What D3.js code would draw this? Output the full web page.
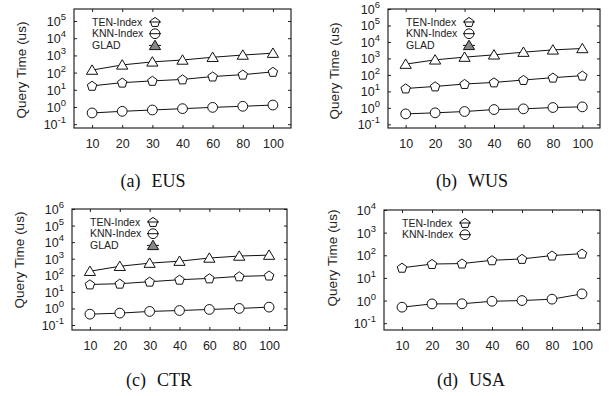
<!DOCTYPE html>
<html>
<head>
<meta charset="utf-8">
<script src="https://cdn.jsdelivr.net/npm/d3@7"></script>
<style>
  body { margin: 0; background: #fff; }
  text { font-family: "Liberation Sans", Arial, sans-serif; fill: #222; }
  .caption { font-family: "Liberation Serif", "Times New Roman", serif; fill: #111; }
</style>
</head>
<body>
<div id="chart-area"></div>
<script>
// x categories (number of queried objects)
const X_LABELS = ["10", "20", "30", "40", "60", "80", "100"]

// query times (us)
const EUS_TEN  = [17, 26, 33, 40, 59, 76, 110]
const EUS_KNN  = [0.45, 0.56, 0.67, 0.8, 0.95, 1.1, 1.3]
const EUS_GLAD = [140, 280, 420, 540, 780, 1050, 1350]

const WUS_TEN  = [15, 20, 28, 35, 49, 68, 90]
const WUS_KNN  = [0.43, 0.5, 0.6, 0.79, 0.87, 1.05, 1.15]
const WUS_GLAD = [450, 820, 1200, 1650, 2400, 3300, 4000]

const CTR_TEN  = [28, 31, 41, 54, 65, 86, 96]
const CTR_KNN  = [0.45, 0.52, 0.66, 0.75, 0.87, 1.0, 1.2]
const CTR_GLAD = [175, 350, 540, 710, 1100, 1450, 1650]

const USA_TEN  = [28, 41, 43, 60, 69, 97, 118]
const USA_KNN  = [0.51, 0.71, 0.72, 0.93, 1.0, 1.15, 1.97]

const SERIES_NAMES = ["TEN-Index", "KNN-Index", "GLAD"]
const SHAPES = ["pentagon", "circle", "triangle"]

const PANELS = [
  { tag: "(a)", name: "EUS", left: 74, top: 9, right: 291, bottom: 128, yMin: 0.06, yMax: 5e5,
    exps: [-1, 0, 1, 2, 3, 4, 5], data: [EUS_TEN, EUS_KNN, EUS_GLAD], capX: 153, capY: 187, labX: 21, labY: 70 },
  { tag: "(b)", name: "WUS", left: 388, top: 9, right: 600, bottom: 128, yMin: 0.06, yMax: 1e6,
    exps: [-1, 0, 1, 2, 3, 4, 5, 6], data: [WUS_TEN, WUS_KNN, WUS_GLAD], capX: 472, capY: 187, labX: 334, labY: 71 },
  { tag: "(c)", name: "CTR", left: 72, top: 209, right: 287, bottom: 330, yMin: 0.05, yMax: 1e6,
    exps: [-1, 0, 1, 2, 3, 4, 5, 6], data: [CTR_TEN, CTR_KNN, CTR_GLAD], capX: 159, capY: 386, labX: 19, labY: 260 },
  { tag: "(d)", name: "USA", left: 384, top: 210, right: 600, bottom: 330, yMin: 0.05, yMax: 1e4,
    exps: [-1, 0, 1, 2, 3, 4], data: [USA_TEN, USA_KNN], capX: 471, capY: 386, labX: 332, labY: 258 }
]

const svg = d3.select("#chart-area").append("svg")
  .attr("width", 611)
  .attr("height", 396)

svg.append("rect").attr("width", 611).attr("height", 396).attr("fill", "#fff")

function shapePath(shape) {
  if (shape === "circle") {
    const p = d3.path()
    p.arc(0, 0, 4.9, 0, 2 * Math.PI)
    return p.toString()
  }
  if (shape === "pentagon") {
    const pts = d3.range(5).map(k => {
      const a = -Math.PI / 2 + k * 2 * Math.PI / 5
      return [5 * Math.cos(a), 5 * Math.sin(a) + 0.4]
    })
    return "M" + pts.join("L") + "Z"
  }
  return "M0,-5.2L5.6,4.2L-5.6,4.2Z"
}

PANELS.forEach(P => {
  const W = P.right - P.left
  const H = P.bottom - P.top
  const g = svg.append("g").attr("transform", `translate(${P.left}, ${P.top})`)

  const x = d3.scalePoint()
    .domain(X_LABELS)
    .range([0, W])
    .padding(0.6)

  const y = d3.scaleLog()
    .domain([P.yMin, P.yMax])
    .range([H, 0])

  const tickVals = P.exps.map(e => Math.pow(10, e))

  // inward ticks on all four sides
  g.append("g").attr("class", "y axis")
    .call(d3.axisLeft(y).tickValues(tickVals).tickSize(-3).tickFormat(""))
  g.append("g").attr("transform", `translate(${W}, 0)`)
    .call(d3.axisRight(y).tickValues(tickVals).tickSize(-3).tickFormat(""))
  g.append("g").attr("class", "x axis").attr("transform", `translate(0, ${H})`)
    .call(d3.axisBottom(x).tickSize(-3).tickPadding(11))
    .selectAll("text")
      .style("font-size", "12.5px")
      .style("font-family", "'Liberation Sans', Arial, sans-serif")
      .attr("fill", "#222")
  g.append("g")
    .call(d3.axisTop(x).tickSize(-3).tickFormat(""))
  g.selectAll(".domain").remove()
  g.selectAll(".tick line").attr("stroke", "#222")

  g.append("rect")
    .attr("width", W).attr("height", H)
    .attr("fill", "none").attr("stroke", "#111").attr("stroke-width", 1.1)

  // log tick labels 10^n
  P.exps.forEach(e => {
    const t = g.append("text")
      .attr("x", -8)
      .attr("y", y(Math.pow(10, e)) + 5)
      .attr("text-anchor", "end")
      .style("font-size", "12.5px")
      .text("10")
    t.append("tspan")
      .attr("dy", -6)
      .style("font-size", "9.5px")
      .text(e)
  })

  // Y label
  svg.append("text")
    .attr("transform", `translate(${P.labX}, ${P.labY}) rotate(-90)`)
    .attr("text-anchor", "middle")
    .attr("dy", "0.35em")
    .style("font-size", "13.5px")
    .text("Query Time (us)")

  const line = d3.line()
    .x((d, i) => x(X_LABELS[i]))
    .y(d => y(d))

  P.data.forEach((vals, s) => {
    g.append("path")
      .datum(vals)
      .attr("fill", "none")
      .attr("stroke", "#111")
      .attr("stroke-width", 1)
      .attr("d", line)

    g.selectAll(null)
      .data(vals)
      .enter().append("path")
      .attr("transform", (d, i) => `translate(${x(X_LABELS[i])}, ${y(d)})`)
      .attr("d", shapePath(SHAPES[s]))
      .attr("fill", "#fff")
      .attr("stroke", "#111")
      .attr("stroke-width", 1)

    // legend
    const ly = 13 + s * 11.7
    g.append("text")
      .attr("x", 18)
      .attr("y", ly)
      .attr("dy", "0.35em")
      .style("font-size", "10.5px")
      .text(SERIES_NAMES[s])
    g.append("line")
      .attr("x1", 75).attr("x2", 87)
      .attr("y1", ly).attr("y2", ly)
      .attr("stroke", "#111")
    g.append("path")
      .attr("transform", `translate(81, ${ly})`)
      .attr("d", shapePath(SHAPES[s]))
      .attr("fill", SHAPES[s] === "triangle" ? "#888" : "none")
      .attr("stroke", "#111")
  })

  // caption
  const cap = svg.append("text")
    .attr("class", "caption")
    .attr("x", P.capX)
    .attr("y", P.capY)
    .attr("text-anchor", "middle")
    .style("font-size", "18px")
  cap.append("tspan").text(P.tag)
  cap.append("tspan").attr("dx", 11).text(P.name)
})
</script>
</body>
</html>
